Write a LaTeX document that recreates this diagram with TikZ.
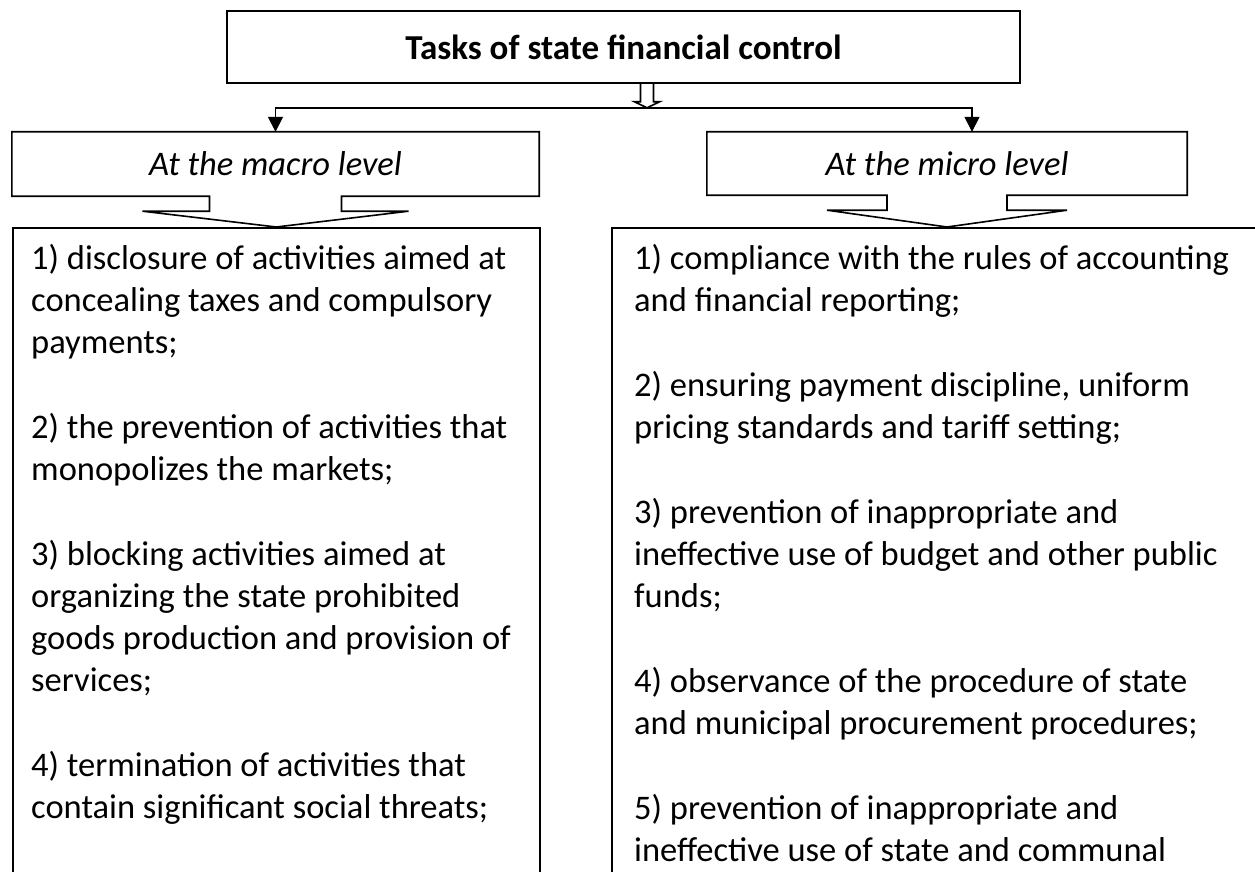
\documentclass[tikz,border=0pt]{standalone}
\usepackage{fontspec}
\setmainfont{Carlito}
\usepackage{tikz}
\usetikzlibrary{arrows.meta,positioning,calc}

\begin{document}
\begin{tikzpicture}[x=1pt,y=-1pt,
box/.style={draw,line width=1.6pt,inner sep=0pt},
level/.style={inner sep=0pt,font=\fontsize{34.5}{42}\selectfont\itshape},
listtext/.style={inner sep=0pt,align=left,font=\fontsize{34.5}{42}\selectfont},
edge/.style={line width=1.6pt,line join=miter},
flow/.style={line width=1.6pt,-{Triangle[length=15pt,width=15pt]}}]
\useasboundingbox (0,0) rectangle (1255,872);
\clip (0,0) rectangle (1255,872);
% Titolo
\node[box,minimum width=793pt,minimum height=72pt,font=\fontsize{35}{42}\selectfont\bfseries]
  (title) at (623.5,47) {Tasks of state financial control};
% Livelli
\node[level,minimum width=527pt,minimum height=64pt] (macro) at (275.5,164) {At the macro level};
\node[level,minimum width=480pt,minimum height=63pt] (micro) at (947,163.5) {At the micro level};
% Elenchi
\node[box,minimum width=527pt,minimum height=700pt,anchor=north west] (macrolist) at (12,227) {};
\node[box,minimum width=700pt,minimum height=700pt,anchor=north west] (microlist) at (611,227) {};
% Freccia vuota e diramazione
\coordinate (drop) at ([xshift=23.5]title.south);
\coordinate (bar) at ([yshift=-24]drop);
\draw[edge] ([xshift=-6.5]drop) -- ++(0,18) -- ++(-6,0) -- (bar)
  -- ([shift={(12.5,18)}]drop) -- ++(-6,0) -- ([xshift=6.5]drop);
\draw[flow] (bar) -| (macro.north);
\draw[flow] (bar) -| ([xshift=25]micro.north);
% Riquadri con freccia
\draw[edge] (macro.north west) -- (macro.north east) -- (macro.south east)
  -- ([xshift=66]macro.south) -- ++(0,15) -- ++(67,0) -- (macrolist.north)
  -- ([shift={(-133,15)}]macro.south) -- ++(67,0) -- ([xshift=-66]macro.south)
  -- (macro.south west) -- cycle;
\draw[edge] (micro.north west) -- (micro.north east) -- (micro.south east)
  -- ([xshift=60]micro.south) -- ++(0,15) -- ++(60,0) -- (micro.south |- microlist.north)
  -- ([shift={(-120,15)}]micro.south) -- ++(60,0) -- ([xshift=-60]micro.south)
  -- (micro.south west) -- cycle;
% Testi
\node[listtext,anchor=north west] (macrotext) at ([shift={(19,17)}]macrolist.north west) {%
1) disclosure of activities aimed at\\
concealing taxes and compulsory\\
payments;\\[43pt]
2) the prevention of activities that\\
monopolizes the markets;\\[43pt]
3) blocking activities aimed at\\
organizing the state prohibited\\
goods production and provision of\\
services;\\[43pt]
4) termination of activities that\\
contain significant social threats;};
\node[listtext,anchor=north west] (microtext) at ([shift={(23,17)}]microlist.north west) {%
1) compliance with the rules of accounting\\
and financial reporting;\\[43pt]
2) ensuring payment discipline, uniform\\
pricing standards and tariff setting;\\[43pt]
3) prevention of inappropriate and\\
ineffective use of budget and other public\\
funds;\\[43pt]
4) observance of the procedure of state\\
and municipal procurement procedures;\\[43pt]
5) prevention of inappropriate and\\
ineffective use of state and communal};
\end{tikzpicture}
\end{document}
